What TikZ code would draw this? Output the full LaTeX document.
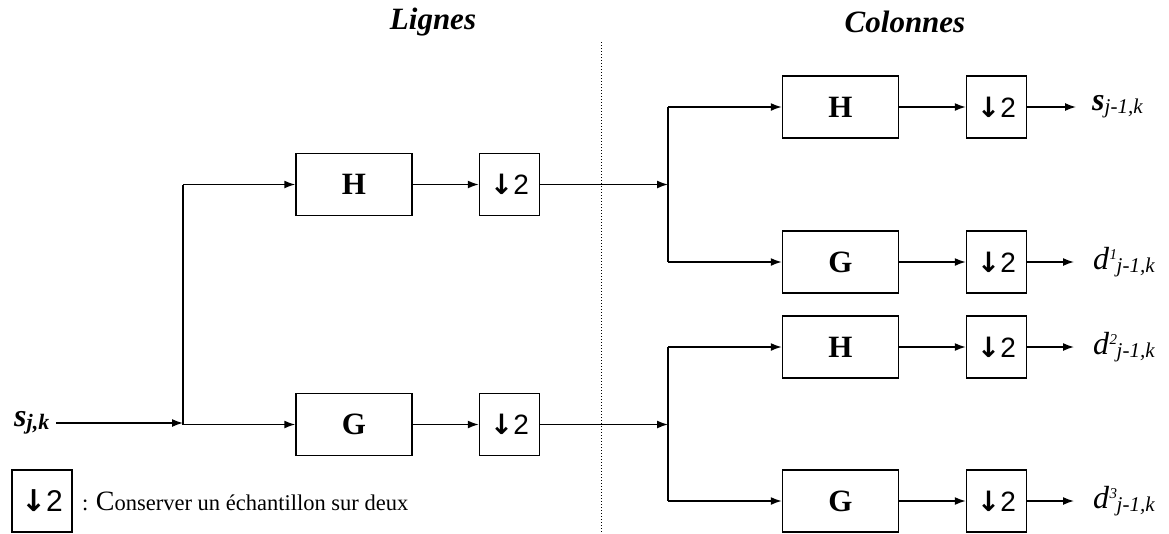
\documentclass[tikz,border=0pt]{standalone}
\usepackage{fontspec}
\setmainfont{Liberation Serif}
\newfontfamily\arialf{Liberation Sans}
\newfontfamily\djv{DejaVu Sans}
\usetikzlibrary{arrows.meta}
\newcommand{\dsym}[1]{{\djv\bfseries\fontsize{#1}{#1}\selectfont ↓}{\arialf\fontsize{#1}{#1}\selectfont 2}}
\newcommand{\dlab}[1]{{\itshape\fontsize{32}{32}\selectfont d}\kern0.5pt\makebox[0pt][l]{\raisebox{1.0em}{\itshape\fontsize{15}{15}\selectfont #1}}\kern7pt\raisebox{-0.35em}{\itshape\fontsize{21}{21}\selectfont j-1,k}}
\tikzset{
  blk/.style={draw, line width=1.5pt, minimum width=116pt, minimum height=62pt, inner sep=0pt, font=\bfseries\fontsize{31}{31}\selectfont},
  dsbox/.style={draw, line width=1.5pt, minimum width=60pt, minimum height=62pt, inner sep=0pt},
  conn/.style={line width=1.5pt},
  arr/.style={line width=1.5pt, -{Latex[length=11pt,width=8pt]}},
  ttl/.style={font=\bfseries\itshape\fontsize{31}{31}\selectfont},
  lab/.style={anchor=west, inner sep=0pt}
}
\begin{document}
\begin{tikzpicture}[x=1pt,y=-1pt]
\useasboundingbox (0,0) rectangle (1169,533);
% titles
\node[ttl] (tl) at (433,22) {Lignes};
\node[ttl] (tc) at (905,22) {Colonnes};
% dotted separator
\coordinate (dt) at (601,42);
\coordinate (db) at (601,533);
\draw[line width=1pt, dotted] (dt) -- (db);
% input
\node[lab] (sjk) at (14,423) {{\bfseries\itshape\fontsize{32}{32}\selectfont s}\raisebox{-0.3em}{\bfseries\itshape\fontsize{22}{22}\selectfont j,k}};
\coordinate (j0) at (183,423);
\coordinate (j0t) at (183,184.5);
\coordinate (j0b) at (183,424.5);
% left column
\node[blk] (hl) at (354,184.5) {H};
\node[dsbox] (dl1) at (509.5,184.5) {\dsym{28}};
\node[blk] (gl) at (354,424.5) {G};
\node[dsbox] (dl2) at (509.5,424.5) {\dsym{28}};
% right column
\node[blk] (h1) at (840.5,107) {H};
\node[dsbox] (d1) at (996.5,107) {\dsym{28}};
\node[blk] (g1) at (840.5,262) {G};
\node[dsbox] (d2) at (996.5,262) {\dsym{28}};
\node[blk] (h2) at (840.5,347) {H};
\node[dsbox] (d3) at (996.5,347) {\dsym{28}};
\node[blk] (g2) at (840.5,501) {G};
\node[dsbox] (d4) at (996.5,501) {\dsym{28}};
% junctions
\coordinate (j1) at (668,184.5);
\coordinate (j1t) at (668,107);
\coordinate (j1b) at (668,262);
\coordinate (j2) at (668,424.5);
\coordinate (j2t) at (668,347);
\coordinate (j2b) at (668,501);
% outputs
\node[lab] (o1) at (1092,107) {{\bfseries\itshape\fontsize{32}{32}\selectfont s}\raisebox{-0.3em}{\itshape\fontsize{21}{21}\selectfont j-1,k}};
\node[lab] (o2) at (1093,262) {\dlab{1}};
\node[lab] (o3) at (1093,347) {\dlab{2}};
\node[lab] (o4) at (1093,501) {\dlab{3}};
% connectors left
\draw[arr] (sjk.east) ++(7,0) coordinate (sjke) -- (j0);
\draw[conn] (j0t) -- (j0b);
\draw[arr] (j0t) -- (hl.west);
\draw[arr] (j0b) -- (gl.west);
\draw[arr] (hl) -- (dl1);
\draw[arr] (gl) -- (dl2);
\draw[arr] (dl1) -- (j1);
\draw[arr] (dl2) -- (j2);
% connectors right
\draw[conn] (j1t) -- (j1b);
\draw[conn] (j2t) -- (j2b);
\draw[arr] (j1t) -- (h1.west);
\draw[arr] (j1b) -- (g1.west);
\draw[arr] (j2t) -- (h2.west);
\draw[arr] (j2b) -- (g2.west);
\draw[arr] (h1) -- (d1);
\draw[arr] (g1) -- (d2);
\draw[arr] (h2) -- (d3);
\draw[arr] (g2) -- (d4);
\draw[arr] (d1.east) -- ([xshift=-16pt]o1.west);
\draw[arr] (d2.east) -- ([xshift=-19pt]o2.west);
\draw[arr] (d3.east) -- ([xshift=-19pt]o3.west);
\draw[arr] (d4.east) -- ([xshift=-19pt]o4.west);
% legend
\node[dsbox] (leg) at (42,501) {\dsym{30}};
\node[lab] (legt) at (82,501) {\fontsize{22.5}{22.5}\selectfont : {\fontsize{28}{28}\selectfont C}onserver un échantillon sur deux};
\end{tikzpicture}
\end{document}
